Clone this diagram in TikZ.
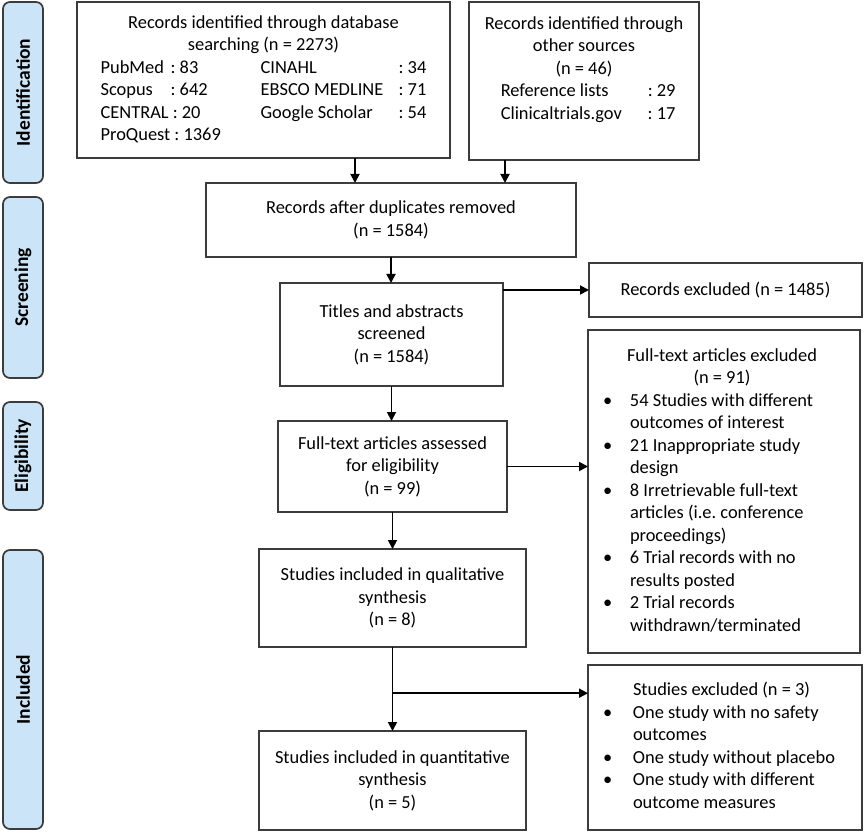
\documentclass[tikz,border=0pt]{standalone}
\usepackage{fontspec}
\setmainfont{Carlito}
\usetikzlibrary{arrows.meta,calc}
\definecolor{lblue}{RGB}{204,228,247}
\definecolor{edge}{RGB}{60,60,60}
\begin{document}
\frenchspacing
\begin{tikzpicture}[x=1pt,y=-1pt,
  every node/.style={font=\fontsize{18.4}{22.5}\selectfont, inner sep=0pt, outer sep=0pt},
  box/.style={draw=edge, line width=1.7pt, fill=white, align=center},
  listbox/.style={draw=edge, line width=1.7pt, fill=white, align=left, inner xsep=15pt},
  phase/.style={draw=edge, line width=1.7pt, fill=lblue, rounded corners=7pt, rotate=90, font=\fontsize{19.5}{23}\selectfont\bfseries},
  arr/.style={line width=1.8pt, -{Triangle[length=9pt,width=9pt]}},
]
\useasboundingbox (0,0) rectangle (865,834);

% phase labels
\node[phase, minimum width=181, minimum height=40] (pid) at (23,92.5) {Identification};
\node[phase, minimum width=181, minimum height=40] (pscr) at (23,287.5) {Screening};
\node[phase, minimum width=108, minimum height=40] (pel) at (23,456) {Eligibility};
\node[phase, minimum width=279, minimum height=40] (pinc) at (23,689.5) {Included};

% boxes
\node[box, minimum width=373, minimum height=156] (db) at (263.5,80) {%
\begin{tabular}{@{}p{160pt}@{}l@{}}
\multicolumn{2}{@{}c@{}}{Records identified through database}\\
\multicolumn{2}{@{}c@{}}{searching (n = 2273)}\\
\makebox[70pt][l]{PubMed}: 83 & \makebox[138pt][l]{CINAHL}: 34\\
\makebox[70pt][l]{Scopus}: 642 & \makebox[138pt][l]{EBSCO MEDLINE}: 71\\
CENTRAL : 20 & \makebox[138pt][l]{Google Scholar}: 54\\
ProQuest : 1369 &
\end{tabular}};

\node[box, minimum width=230, minimum height=158] (oth) at (584,81) {%
\begin{tabular}{@{}l@{}}
\multicolumn{1}{@{}c@{}}{Records identified through}\\
\multicolumn{1}{@{}c@{}}{other sources}\\
\multicolumn{1}{@{}c@{}}{(n = 46)}\\
\hspace*{16pt}\makebox[147pt][l]{Reference lists}: 29\\
\hspace*{16pt}\makebox[147pt][l]{Clinicaltrials.gov}: 17\\
\mbox{}
\end{tabular}};

\node[box, minimum width=370, minimum height=74] (dup) at (391,220) {Records after duplicates removed\\(n = 1584)};

\node[box, minimum width=223, minimum height=103] (tit) at (391.5,334.5) {Titles and abstracts\\screened\\(n = 1584)};

\node[box, minimum width=273, minimum height=54] (ex1) at (725.5,290) {Records excluded (n = 1485)};

\node[box, minimum width=229, minimum height=91] (fta) at (392.5,466.5) {Full-text articles assessed\\for eligibility\\(n = 99)};

\node[listbox, text width=242pt, minimum height=323] (ex2) at (724,491.5) {\spaceskip=0pt\xspaceskip=0pt%
\begin{tabular}{@{}p{27pt}@{}p{211pt}@{}}
\multicolumn{2}{@{}c@{}}{Full-text articles excluded}\\
\multicolumn{2}{@{}c@{}}{(n = 91)}\\
\textbullet & 54 Studies with different\\
 & outcomes of interest\\
\textbullet & 21 Inappropriate study\\
 & design\\
\textbullet & 8 Irretrievable full-text\\
 & articles (i.e. conference\\
 & proceedings)\\
\textbullet & 6 Trial records with no\\
 & results posted\\
\textbullet & 2 Trial records\\
 & withdrawn/terminated
\end{tabular}};

\node[box, minimum width=267, minimum height=98] (qual) at (392.5,598) {Studies included in qualitative\\synthesis\\(n = 8)};

\node[box, minimum width=267, minimum height=99] (quant) at (392.5,780.5) {Studies included in quantitative\\synthesis\\(n = 5)};

\node[listbox, text width=244pt, minimum height=165] (ex3) at (725,747.5) {\spaceskip=0pt\xspaceskip=0pt%
\begin{tabular}{@{}p{30pt}@{}l@{}}
 & Studies excluded (n = 3)\\
\textbullet & One study with no safety\\
 & outcomes\\
\textbullet & One study without placebo\\
\textbullet & One study with different\\
 & outcome measures
\end{tabular}};

% connectors
\draw[arr] ([xshift=91.5pt]db.south) -- ([xshift=91.5pt]db.south |- dup.north);
\draw[arr] ([xshift=-79pt]oth.south) -- ([xshift=-79pt]oth.south |- dup.north);
\draw[arr] (dup.south) -- (dup.south |- tit.north);
\draw[arr] (ex1.west -| tit.east) -- (ex1.west);
\draw[arr] (tit.south) -- (tit.south |- fta.north);
\draw[arr] (fta.east) -- (fta.east -| ex2.west);
\draw[arr] (fta.south) -- (fta.south |- qual.north);
\draw[arr] (qual.south) -- (quant.north);
\coordinate (br) at ($(qual.south)!0.55!(quant.north)$);
\draw[arr] (br) -- (br -| ex3.west);
\end{tikzpicture}
\end{document}
